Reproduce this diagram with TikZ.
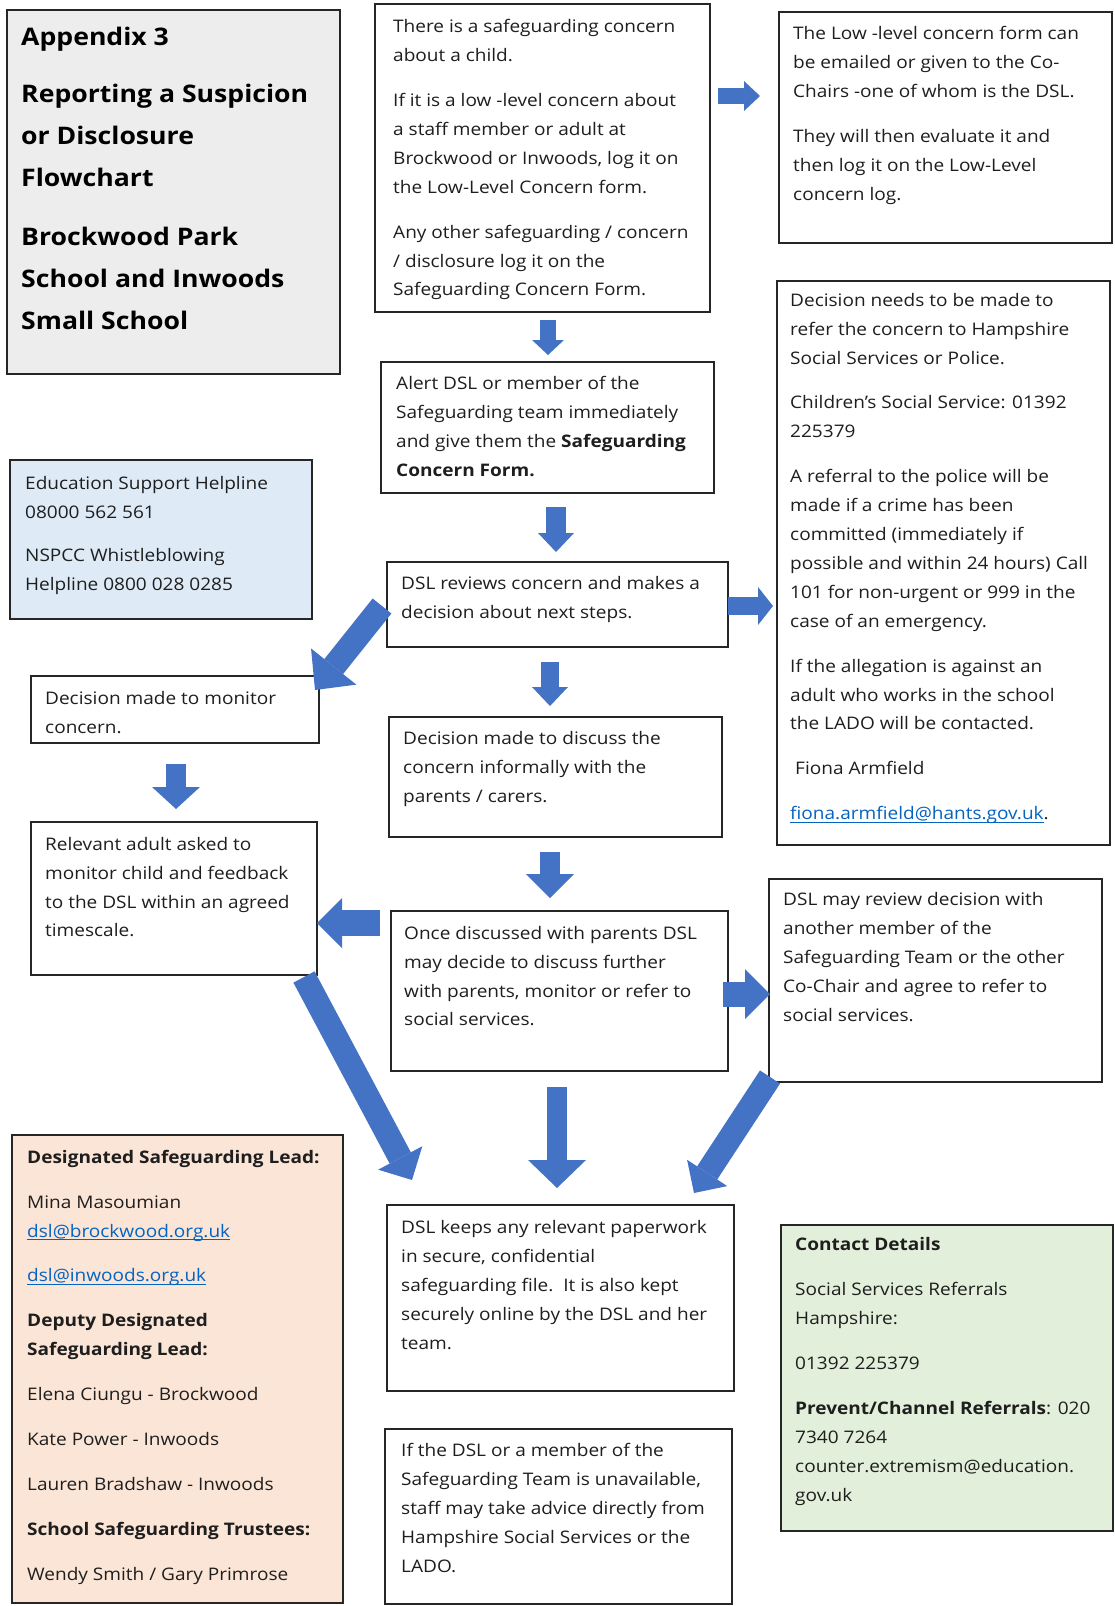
\documentclass[tikz,border=0pt]{standalone}
\usepackage{fontspec}
\setmainfont{Open Sans}[FakeStretch=1.1]
\usetikzlibrary{arrows.meta}
\definecolor{arrowblue}{HTML}{4472C4}
\definecolor{linkblue}{HTML}{0563C1}
\definecolor{titlegray}{HTML}{EDEDED}
\definecolor{helpblue}{HTML}{DEEBF7}
\definecolor{peach}{HTML}{FBE5D6}
\definecolor{palegreen}{HTML}{E2EFDA}
\definecolor{textcol}{HTML}{1E1E1E}
\newsavebox\lnkbox
\newcommand\lnk[1]{\sbox\lnkbox{#1}\textcolor{linkblue}{\rlap{\rule[-2.8pt]{\wd\lnkbox}{1pt}}#1}}
\newcommand\fst{\rule{0pt}{20pt}}
\newcommand\tst{\rule{0pt}{28pt}}
\newcommand\mkbox[6]{\node[box,#6,minimum width={#4pt-#2pt},minimum height={#5pt-#3pt}] (#1) at (#2,#3) {};}
\begin{document}
\begin{tikzpicture}[x=1pt,y=-1pt,
 box/.style={draw=black!85, line width=1.3pt, anchor=north west, inner sep=0pt, outer sep=0pt},
 txt/.style={anchor=north west, inner sep=0pt, align=left, text=textcol, font=\fontsize{17.3}{28.9}\selectfont},
 ttl/.style={anchor=north west, inner sep=0pt, align=left, text=black, font=\bfseries\fontsize{24.2}{42}\selectfont},
 barrow/.style={draw=arrowblue, line cap=butt}
]
\useasboundingbox (0,0) rectangle (1114,1606);
% boxes
\mkbox{T}{7}{10}{340}{374}{fill=titlegray}
\mkbox{A}{375}{4}{710}{312}{fill=white}
\mkbox{B}{779}{12}{1112}{243}{fill=white}
\mkbox{C}{381}{362}{714}{493}{fill=white}
\mkbox{HL}{10}{460}{312}{619}{fill=helpblue}
\mkbox{D}{387}{562}{728}{647}{fill=white}
\mkbox{E}{777}{281}{1110}{845}{fill=white}
\mkbox{F}{31}{676}{319}{743}{fill=white}
\mkbox{G}{31}{822}{317}{975}{fill=white}
\mkbox{H}{389}{717}{722}{837}{fill=white}
\mkbox{I}{391}{911}{728}{1071}{fill=white}
\mkbox{J}{769}{879}{1102}{1082}{fill=white}
\mkbox{K}{387}{1205}{734}{1391}{fill=white}
\mkbox{L}{12}{1135}{343}{1603}{fill=peach}
\mkbox{M}{781}{1225}{1113}{1531}{fill=palegreen}
\mkbox{N}{385}{1429}{732}{1604}{fill=white}
% texts
\node[ttl] (Tt) at (21,17.5) {\tst Appendix 3\\[15pt]
Reporting a Suspicion\\
or Disclosure\\
Flowchart\\[17pt]
Brockwood Park\\
School and Inwoods\\
Small School};
\node[txt] (At) at (393,12.5) {\fst There is a safeguarding concern\\
about a child.\\[16pt]
If it is a low -level concern about\\
a staff member or adult at\\
Brockwood or Inwoods, log it on\\
the Low-Level Concern form.\\[16pt]
Any other safeguarding / concern\\
/ disclosure log it on the\\
Safeguarding Concern Form.};
\node[txt] (Bt) at (793,19.5) {\fst The Low -level concern form can\\
be emailed or given to the Co-\\
Chairs -one of whom is the DSL.\\[16pt]
They will then evaluate it and\\
then log it on the Low-Level\\
concern log.};
\node[txt] (Ct) at (396,369.5) {\fst Alert DSL or member of the\\
Safeguarding team immediately\\
and give them the \textbf{Safeguarding}\\
\textbf{Concern Form.}};
\node[txt] (HLt) at (25,469.5) {\fst Education Support Helpline\\
08000 562 561\\[14pt]
NSPCC Whistleblowing\\
Helpline 0800 028 0285};
\node[txt] (Dt) at (401,569) {\fst DSL reviews concern and makes a\\
decision about next steps.};
\node[txt] (Et) at (790,286) {\fst Decision needs to be made to\\
refer the concern to Hampshire\\
Social Services or Police.\\[16pt]
Children’s Social Service: 01392\\
225379\\[16pt]
A referral to the police will be\\
made if a crime has been\\
committed (immediately if\\
possible and within 24 hours) Call\\
101 for non-urgent or 999 in the\\
case of an emergency.\\[16pt]
If the allegation is against an\\
adult who works in the school\\
the LADO will be contacted.\\[16pt]
\hspace*{5pt}Fiona Armfield\\[16pt]
\lnk{fiona.armfield@hants.gov.uk}.};
\node[txt] (Ft) at (45,684) {\fst Decision made to monitor\\
concern.};
\node[txt] (Gt) at (45,830) {\fst Relevant adult asked to\\
monitor child and feedback\\
to the DSL within an agreed\\
timescale.};
\node[txt] (Ht) at (403,724) {\fst Decision made to discuss the\\
concern informally with the\\
parents / carers.};
\node[txt] (It) at (404,919) {\fst Once discussed with parents DSL\\
may decide to discuss further\\
with parents, monitor or refer to\\
social services.};
\node[txt] (Jt) at (783,885.5) {\fst DSL may review decision with\\
another member of the\\
Safeguarding Team or the other\\
Co-Chair and agree to refer to\\
social services.};
\node[txt] (Kt) at (401,1213.5) {\fst DSL keeps any relevant paperwork\\
in secure, confidential\\
safeguarding file.\ \ It is also kept\\
securely online by the DSL and her\\
team.};
\node[txt] (Nt) at (401,1436.5) {\fst If the DSL or a member of the\\
Safeguarding Team is unavailable,\\
staff may take advice directly from\\
Hampshire Social Services or the\\
LADO.};
\node[txt] (Lt) at (27,1143) {\fst \textbf{Designated Safeguarding Lead:}\\[16pt]
Mina Masoumian\\
\lnk{dsl@brockwood.org.uk}\\[16pt]
\lnk{dsl@inwoods.org.uk}\\[16pt]
\textbf{Deputy Designated}\\
\textbf{Safeguarding Lead:}\\[16pt]
Elena Ciungu - Brockwood\\[16pt]
Kate Power - Inwoods\\[16pt]
Lauren Bradshaw - Inwoods\\[16pt]
\textbf{School Safeguarding Trustees:}\\[16pt]
Wendy Smith / Gary Primrose};
\node[txt] (Mt) at (795,1230.5) {\fst \textbf{Contact Details}\\[16pt]
Social Services Referrals\\
Hampshire:\\[16pt]
01392 225379\\[16pt]
\textbf{Prevent/Channel Referrals}: 020\\
7340 7264\\
counter.extremism@education.\\
gov.uk};
% arrow end points
\coordinate (a1s) at (718,96);   \coordinate (a1e) at (760,96);
\coordinate (a2s) at (548,320);  \coordinate (a2e) at (548,355);
\coordinate (a3s) at (556,507);  \coordinate (a3e) at (556,552);
\coordinate (a4s) at (728,606);  \coordinate (a4e) at (773,606);
\coordinate (a5s) at (382,606);  \coordinate (a5e) at (315,690);
\coordinate (a6s) at (176,764);  \coordinate (a6e) at (176,809);
\coordinate (a7s) at (550,662);  \coordinate (a7e) at (550,706);
\coordinate (a8s) at (550,852);  \coordinate (a8e) at (550,898);
\coordinate (a9s) at (380,923);  \coordinate (a9e) at (317,923);
\coordinate (a10s) at (723,994); \coordinate (a10e) at (770,994);
\coordinate (a11s) at (304,977); \coordinate (a11e) at (412,1180);
\coordinate (a12s) at (557,1087);\coordinate (a12e) at (557,1188);
\coordinate (a13s) at (770,1077);\coordinate (a13e) at (694,1193);
% arrows
\draw[barrow, line width=16pt, -{Triangle[width=30pt,length=16pt,line width=0pt]}] (a1s) -- (a1e);
\draw[barrow, line width=16pt, -{Triangle[width=32pt,length=15pt,line width=0pt]}] (a2s) -- (a2e);
\draw[barrow, line width=20pt, -{Triangle[width=36pt,length=19pt,line width=0pt]}] (a3s) -- (a3e);
\draw[barrow, line width=18pt, -{Triangle[width=38pt,length=15pt,line width=0pt]}] (a4s) -- (a4e);
\draw[barrow, line width=24pt, -{Triangle[width=58pt,length=30pt,line width=0pt]}] (a5s) -- (a5e);
\draw[barrow, line width=20pt, -{Triangle[width=48pt,length=22pt,line width=0pt]}] (a6s) -- (a6e);
\draw[barrow, line width=18pt, -{Triangle[width=36pt,length=19pt,line width=0pt]}] (a7s) -- (a7e);
\draw[barrow, line width=20pt, -{Triangle[width=48pt,length=24pt,line width=0pt]}] (a8s) -- (a8e);
\draw[barrow, line width=26pt, -{Triangle[width=50pt,length=25pt,line width=0pt]}] (a9s) -- (a9e);
\draw[barrow, line width=25pt, -{Triangle[width=50pt,length=25pt,line width=0pt]}] (a10s) -- (a10e);
\draw[barrow, line width=24pt, -{Triangle[width=50pt,length=25pt,line width=0pt]}] (a11s) -- (a11e);
\draw[barrow, line width=20pt, -{Triangle[width=58pt,length=28pt,line width=0pt]}] (a12s) -- (a12e);
\draw[barrow, line width=24pt, -{Triangle[width=48pt,length=24pt,line width=0pt]}] (a13s) -- (a13e);
\end{tikzpicture}
\end{document}
